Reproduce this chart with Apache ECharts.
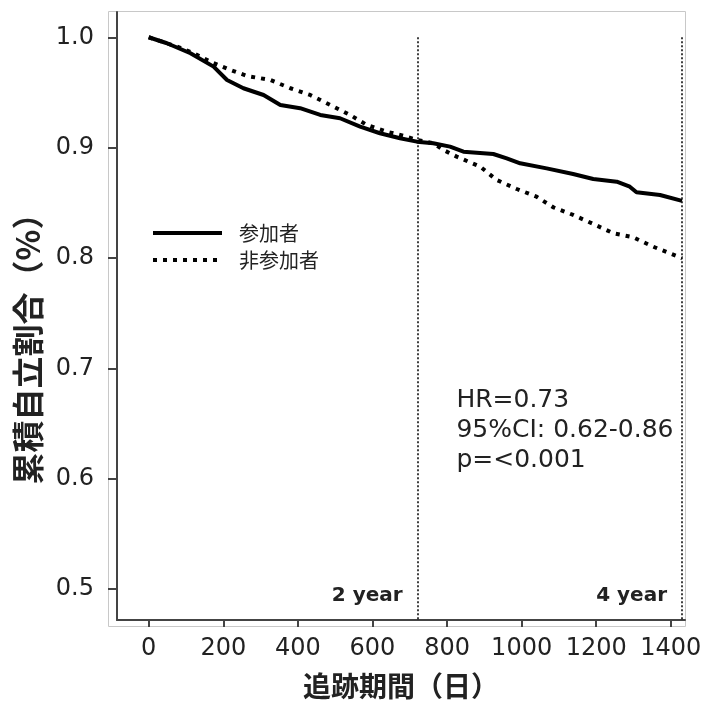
<!DOCTYPE html>
<html>
<head>
<meta charset="utf-8">
<script src="https://cdn.jsdelivr.net/npm/echarts@6/dist/echarts.min.js"></script>
<style>
  html, body { margin: 0; padding: 0; background: #fff; }
  #chart { width: 711px; height: 702px; }
</style>
</head>
<body>
<div id="chart"></div>
<script>
// follow-up days / cumulative independence ratio
const joinDays = [0, 49, 112, 174, 210, 254, 308, 353, 406, 460, 513, 567, 620, 674, 719, 763, 808, 844, 924, 960, 996, 1067, 1138, 1192, 1255, 1290, 1308, 1371, 1430];
const joinRate = [1.0, 0.9946, 0.9855, 0.9734, 0.9613, 0.9538, 0.9477, 0.9386, 0.9357, 0.9296, 0.9266, 0.919, 0.913, 0.9085, 0.9054, 0.904, 0.9009, 0.8963, 0.8942, 0.8903, 0.8858, 0.8812, 0.8761, 0.8716, 0.8691, 0.8646, 0.8595, 0.8571, 0.8517];
const nonJoinDays = [0, 76, 121, 165, 219, 264, 326, 380, 433, 487, 540, 585, 639, 692, 719, 763, 790, 826, 889, 933, 987, 1040, 1085, 1138, 1192, 1246, 1299, 1353, 1430];
const nonJoinRate = [1.0, 0.9915, 0.9855, 0.9779, 0.9704, 0.9649, 0.9613, 0.9538, 0.9477, 0.9386, 0.9296, 0.9205, 0.9144, 0.9099, 0.9069, 0.904, 0.8979, 0.8918, 0.8827, 0.8707, 0.8625, 0.8555, 0.8459, 0.839, 0.8308, 0.8224, 0.8187, 0.8102, 0.7997];

const seriesNames = ['参加者', '非参加者'];
const xTicks = [0, 200, 400, 600, 800, 1000, 1200, 1400];
const yTicks = [0.5, 0.6, 0.7, 0.8, 0.9, 1.0];
const yearLines = [721, 1430];
const yearLabels = ['2 year', '4 year'];
const statLines = ['HR=0.73', '95%CI: 0.62-0.86', 'p=<0.001'];

const X_MIN = -85, X_MAX = 1438;
const Y_MIN = 0.4719, Y_MAX = 1.0229;

const cjk = '"Noto Sans CJK JP", "Noto Sans CJK SC", sans-serif';
const latin = '"DejaVu Sans", Verdana, sans-serif';

const chart = echarts.init(document.getElementById('chart'));

const pairs = (xs, ys) => xs.map((x, i) => [x, ys[i]]);

const option = {
  animation: false,
  backgroundColor: '#fff',
  grid: { left: 117, right: 26, top: 12, bottom: 82, containLabel: false, outerBoundsMode: 'none' },
  legend: {
    orient: 'vertical',
    left: 146,
    top: 218,
    itemWidth: 69,
    itemHeight: 14,
    itemGap: 7,
    data: seriesNames,
    itemStyle: { opacity: 0 },
    lineStyle: { width: 4 },
    textStyle: { fontFamily: cjk, fontSize: 20, color: '#222', padding: [0, 0, 0, 12] }
  },
  xAxis: {
    type: 'value',
    min: X_MIN,
    max: X_MAX,
    splitLine: { show: false },
    axisLine: { show: true, onZero: false, lineStyle: { color: '#444', width: 2 } },
    axisTick: { show: true, length: 7, customValues: xTicks, lineStyle: { color: '#444', width: 2 } },
    axisLabel: {
      customValues: xTicks, margin: 17, fontFamily: latin, fontSize: 24, color: '#222',
      formatter: v => String(v)
    }
  },
  yAxis: {
    type: 'value',
    min: Y_MIN,
    max: Y_MAX,
    splitLine: { show: false },
    axisLine: { show: true, onZero: false, lineStyle: { color: '#444', width: 2 } },
    axisTick: { show: true, length: 9, customValues: yTicks, lineStyle: { color: '#444', width: 2 } },
    axisLabel: {
      customValues: yTicks, margin: 23, fontFamily: latin, fontSize: 24, color: '#222',
      formatter: v => v.toFixed(1)
    }
  },
  series: [
    {
      name: seriesNames[0],
      type: 'line',
      symbol: 'none',
      data: pairs(joinDays, joinRate),
      itemStyle: { color: '#000' },
      lineStyle: { color: '#000', width: 4 },
      z: 3,
      markLine: {
        silent: true,
        symbol: 'none',
        label: { show: false },
        lineStyle: { color: '#000', width: 1.5, type: [2, 2] },
        data: yearLines.map(d => [{ coord: [d, 1.0] }, { coord: [d, Y_MIN] }])
      }
    },
    {
      name: seriesNames[1],
      type: 'line',
      symbol: 'none',
      data: pairs(nonJoinDays, nonJoinRate),
      itemStyle: { color: '#000' },
      lineStyle: { color: '#000', width: 4, type: [4, 6] },
      z: 3
    }
  ]
};

chart.setOption(option);

// annotations placed through the axis scales
const yearTextY = chart.convertToPixel({ gridIndex: 0 }, [0, 0.4937])[1];
const statPos = chart.convertToPixel({ gridIndex: 0 }, [825, 0.644]);
const graphics = [
  {
    type: 'rect', silent: true, z: -1,
    shape: { x: 108.5, y: 11.5, width: 577, height: 615 },
    style: { fill: null, stroke: '#c8c8c8', lineWidth: 1 }
  },
  {
    type: 'text', silent: true,
    x: 28, y: 341, rotation: Math.PI / 2,
    style: {
      text: '累積自立割合（%）', font: 'bold 32px ' + cjk, fill: '#222',
      align: 'center', verticalAlign: 'middle'
    }
  },
  {
    type: 'text', silent: true,
    x: 401, y: 686,
    style: {
      text: '追跡期間（日）', font: 'bold 28px ' + cjk, fill: '#222',
      align: 'center', verticalAlign: 'middle'
    }
  },
  {
    type: 'text', silent: true,
    x: statPos[0], y: statPos[1],
    style: {
      text: statLines.join('\n'), font: '25px ' + latin, fill: '#222',
      lineHeight: 30, align: 'left', verticalAlign: 'middle'
    }
  }
];
yearLines.forEach((d, i) => {
  const px = chart.convertToPixel({ gridIndex: 0 }, [d, 0.5])[0];
  graphics.push({
    type: 'text', silent: true,
    x: px - 15, y: yearTextY,
    style: {
      text: yearLabels[i], font: 'bold 20px ' + latin, fill: '#222',
      align: 'right', verticalAlign: 'middle'
    }
  });
});
chart.setOption({ graphic: graphics });
</script>
</body>
</html>
